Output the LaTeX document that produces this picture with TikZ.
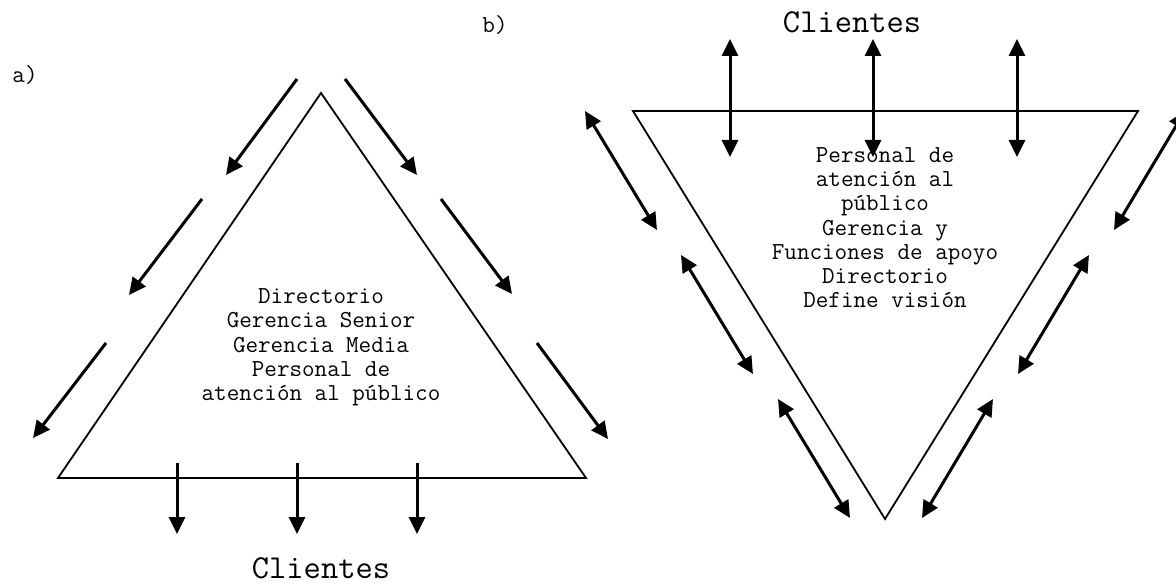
\documentclass[tikz,border=0pt]{standalone}
\usepackage{fontspec}
\usetikzlibrary{arrows.meta}
\begin{document}
\begin{tikzpicture}[x=1pt,y=-1pt,
  tri/.style={line width=1.8pt, line join=miter},
  onearrow/.style={line width=3pt, -{Triangle[length=17pt,width=16pt]}},
  twoarrow/.style={line width=3pt, {Triangle[length=17pt,width=16pt]}-{Triangle[length=17pt,width=16pt]}},
  txt/.style={font=\ttfamily\fontsize{24.4}{26}\selectfont, inner sep=0pt, anchor=base},
  big/.style={font=\ttfamily\fontsize{33.5}{36}\selectfont, inner sep=0pt, anchor=base}]
\useasboundingbox (0,0) rectangle (1176,585);
% ---------- a) ----------
\node[txt] (la) at (25,83) {a)};
\coordinate (A1) at (321,93);
\coordinate (A2) at (58,478);
\coordinate (A3) at (586,478);
\draw[tri] (A1) -- (A2) -- (A3) -- cycle;
% left side arrows
\coordinate (l1s) at (297,79);  \coordinate (l1e) at (226,175);
\coordinate (l2s) at (202,199); \coordinate (l2e) at (129,295);
\coordinate (l3s) at (106,343); \coordinate (l3e) at (33,438);
\draw[onearrow] (l1s) -- (l1e);
\draw[onearrow] (l2s) -- (l2e);
\draw[onearrow] (l3s) -- (l3e);
% right side arrows
\coordinate (r1s) at (345,79);  \coordinate (r1e) at (417,175);
\coordinate (r2s) at (441,199); \coordinate (r2e) at (512,294);
\coordinate (r3s) at (537,343); \coordinate (r3e) at (608,439);
\draw[onearrow] (r1s) -- (r1e);
\draw[onearrow] (r2s) -- (r2e);
\draw[onearrow] (r3s) -- (r3e);
% bottom arrows
\coordinate (d1s) at (177,463); \coordinate (d1e) at (177,534);
\coordinate (d2s) at (297,463); \coordinate (d2e) at (297,534);
\coordinate (d3s) at (417,463); \coordinate (d3e) at (417,534);
\draw[onearrow] (d1s) -- (d1e);
\draw[onearrow] (d2s) -- (d2e);
\draw[onearrow] (d3s) -- (d3e);
% texts
\node[txt] (at1) at (321,303.5) {Directorio};
\node[txt] (at2) at (321,327.8) {Gerencia Senior};
\node[txt] (at3) at (321,352.1) {Gerencia Media};
\node[txt] (at4) at (321,376.4) {Personal de};
\node[txt] (at5) at (321,400.7) {atención al público};
\node[big] (cla) at (321,578) {Clientes};
% ---------- b) ----------
\node[txt] (lb) at (495,33) {b)};
\node[big] (clb) at (852,33) {Clientes};
\coordinate (B1) at (633,111);
\coordinate (B2) at (1138,111);
\coordinate (B3) at (885,519);
\draw[tri] (B1) -- (B2) -- (B3) -- cycle;
% vertical double arrows
\coordinate (v1s) at (730,39);  \coordinate (v1e) at (730,157);
\coordinate (v2s) at (873,39);  \coordinate (v2e) at (873,157);
\coordinate (v3s) at (1017,39); \coordinate (v3e) at (1017,157);
\draw[twoarrow] (v1s) -- (v1e);
\draw[twoarrow] (v2s) -- (v2e);
\draw[twoarrow] (v3s) -- (v3e);
% left double arrows
\coordinate (p1s) at (585,111); \coordinate (p1e) at (657,230);
\coordinate (p2s) at (681,255); \coordinate (p2e) at (753,374);
\coordinate (p3s) at (778,399); \coordinate (p3e) at (850,518);
\draw[twoarrow] (p1s) -- (p1e);
\draw[twoarrow] (p2s) -- (p2e);
\draw[twoarrow] (p3s) -- (p3e);
% right double arrows
\coordinate (q1s) at (1185,111); \coordinate (q1e) at (1114,230);
\coordinate (q2s) at (1089,255); \coordinate (q2e) at (1018,374);
\coordinate (q3s) at (993,399);  \coordinate (q3e) at (922,518);
\draw[twoarrow] (q1s) -- (q1e);
\draw[twoarrow] (q2s) -- (q2e);
\draw[twoarrow] (q3s) -- (q3e);
% texts
\node[txt] (bt1) at (885,162.5) {Personal de};
\node[txt] (bt2) at (885,186.7) {atención al};
\node[txt] (bt3) at (885,210.9) {público};
\node[txt] (bt4) at (885,235.1) {Gerencia y};
\node[txt] (bt5) at (885,259.3) {Funciones de apoyo};
\node[txt] (bt6) at (885,283.5) {Directorio};
\node[txt] (bt7) at (885,307.7) {Define visión};
\end{tikzpicture}
\end{document}
